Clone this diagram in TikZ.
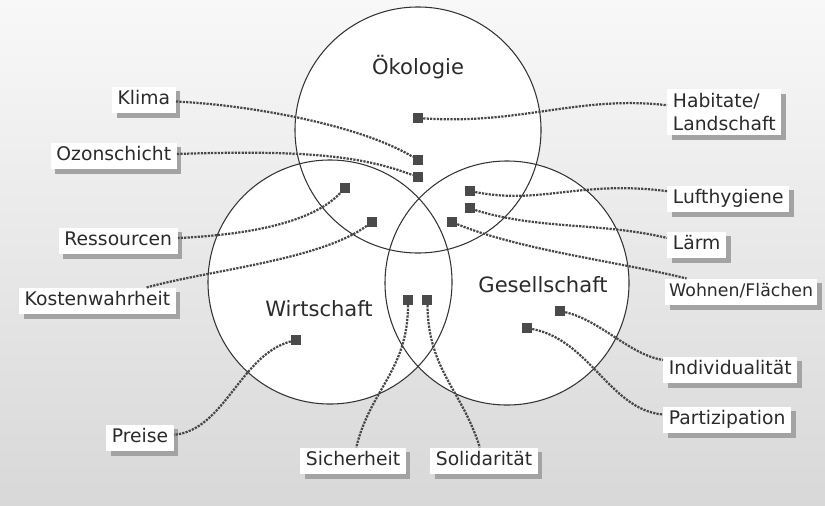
\documentclass[tikz,border=0pt]{standalone}
\usepackage{fontspec}
\setmainfont{DejaVu Sans}
\usepackage{tikz}
\usetikzlibrary{positioning,shadows}
\definecolor{InkGray}{HTML}{2B2B2B}
\definecolor{LineGray}{HTML}{333333}
\definecolor{DotGray}{HTML}{474747}
\definecolor{MarkGray}{HTML}{4A4A4A}
\definecolor{ShadowGray}{HTML}{A3A3A3}
\definecolor{PaperTop}{HTML}{F8F8F8}
\definecolor{PaperBottom}{HTML}{D8D8D8}
\tikzset{
  % Label box with shadow
  LB/.style={rectangle,fill=white,text=InkGray,
             font=\fontsize{16}{20}\selectfont,
             inner xsep=0.17cm,inner ysep=3.5pt,
             text height=12pt,text depth=3.7pt,
             drop shadow={shadow xshift=0.14cm,shadow yshift=-0.14cm,
                          fill=ShadowGray,opacity=1}},
  % Circle title
  TT/.style={text=InkGray,font=\fontsize{18}{21}\selectfont,inner sep=0pt},
  % Small square
  SQ/.style={rectangle,fill=MarkGray,minimum size=0.3cm,inner sep=0pt},
  % Dotted connector
  con/.style={densely dotted,line width=1.9pt,DotGray},
  % Circle outline
  ring/.style={draw=LineGray,line width=0.9pt}
}

\begin{document}
\begin{tikzpicture}[x=0.03cm,y=-0.03cm]
  \useasboundingbox (0,0) rectangle (825,505);
  \clip (0,0) rectangle (825,505);
  \shade[top color=PaperTop,bottom color=PaperBottom] (0,0) rectangle (825,505);

  % circles
  \fill[white] (418,130) circle[radius=3.69cm];
  \fill[white] (330,282) circle[radius=3.66cm];
  \fill[white] (507,283) circle[radius=3.66cm];
  \draw[ring] (418,130) circle[radius=3.69cm];
  \draw[ring] (330,282) circle[radius=3.66cm];
  \draw[ring] (507,283) circle[radius=3.66cm];

  \node[TT] (oeko) at (418,67)  {Ökologie};
  \node[TT] (wirt) at (319,309) {Wirtschaft};
  \node[TT] (ges)  at (543,285) {Gesellschaft};

  % squares
  \node[SQ] (sqHab)   at (418,118) {};
  \node[SQ] (sqKlima) at (418,160) {};
  \node[SQ,below=0.2cm of sqKlima] (sqOzon) {};
  \node[SQ] (sqRess)  at (345,188) {};
  \node[SQ] (sqKost)  at (372,222) {};
  \node[SQ] (sqLuft)  at (470,191) {};
  \node[SQ,below=0.21cm of sqLuft] (sqLaerm) {};
  \node[SQ] (sqWohn)  at (452,222) {};
  \node[SQ] (sqSich)  at (408,300) {};
  \node[SQ,right=0.27cm of sqSich] (sqSoli) {};
  \node[SQ] (sqPreis) at (296,340) {};
  \node[SQ] (sqIndiv) at (560,311) {};
  \node[SQ] (sqPart)  at (527,328) {};

  % labels
  \node[LB,anchor=east] (klima)  at (176,100) {Klima};
  \node[LB,anchor=east] (ozon)   at (177,156) {Ozonschicht};
  \node[LB,anchor=east] (ress)   at (178,241) {Ressourcen};
  \node[LB,anchor=east] (kosten) at (176,301) {Kostenwahrheit};
  \node[LB,anchor=east] (preise) at (174,438) {Preise};
  \node[LB,anchor=west,align=left,text height=,text depth=] (habitat) at (667,112) {Habitate/\\Landschaft};
  \node[LB,anchor=west] (luft)   at (667,199) {Lufthygiene};
  \node[LB,anchor=west] (laerm)  at (667,245) {Lärm};
  \node[LB,anchor=west,inner xsep=0.12cm,font=\fontsize{14.8}{18}\selectfont] (wohnen) at (665,292) {Wohnen/Flächen};
  \node[LB,anchor=west] (indiv)  at (663,370) {Individualität};
  \node[LB,anchor=west] (partiz) at (663,420) {Partizipation};
  \node[LB] (sicher) at (353,461) {Sicherheit};
  \node[LB] (solid)  at (484,461) {Solidarität};

  % connectors
  \draw[con] (klima)  .. controls (250,105) and (360,125) .. (sqKlima);
  \draw[con] (ozon)   .. controls (300,150) and (360,155) .. (sqOzon);
  \draw[con] (sqHab)  .. controls (520,125) and (580,95)  .. (habitat);
  \draw[con] (sqLuft) .. controls (540,205) and (580,180) .. (luft);
  \draw[con] (sqLaerm).. controls (540,230) and (600,222) .. (laerm);
  \draw[con] (sqWohn) .. controls (520,250) and (620,262) .. (wohnen);
  \draw[con] (sqIndiv).. controls (600,320) and (630,355) .. (indiv);
  \draw[con] (sqPart) .. controls (590,340) and (610,410) .. (partiz);
  \draw[con] (sqSich) .. controls (408,370) and (370,390) .. (sicher);
  \draw[con] (sqSoli) .. controls (428,370) and (462,390) .. (solid);
  \draw[con] (sqPreis).. controls (240,355) and (225,430) .. (preise);
  \draw[con] (sqRess) .. controls (310,225) and (240,235) .. (ress);
  \draw[con] (sqKost) .. controls (320,260) and (210,270) .. (kosten);
\end{tikzpicture}
\end{document}
